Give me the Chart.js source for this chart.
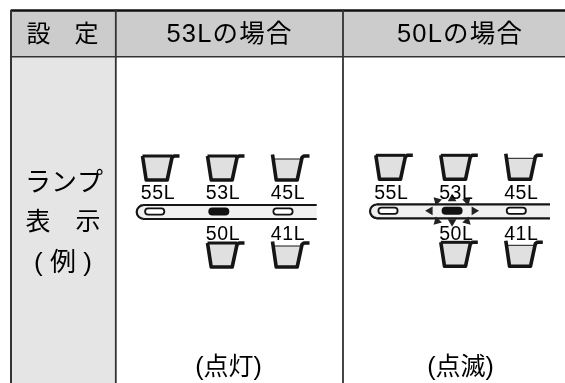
<!DOCTYPE html>
<html><head><meta charset="utf-8">
<style>html,body{margin:0;padding:0;background:#fff}canvas{display:block}</style>
<script src="https://cdn.jsdelivr.net/npm/chart.js@4"></script>
</head><body><canvas id="c" width="565" height="383"></canvas>
<script>
// ---- content ----
const headers = ['設　定', '53Lの場合', '50Lの場合'];
const rowLabels = ['ランプ', '表　示', '( 例 )'];
const captions = ['(点灯)', '(点滅)'];
const upperLevels = ['55L', '53L', '45L'];
const lowerLevels = ['50L', '41L'];
const litLevels = ['53L', '53L'];      // lamp that is on, per column
const blinking = [false, true];        // lamp blinks, per column
const fullCups = ['55L', '53L', '50L']; // cups drawn filled to the brim

// ---- diagram layout (in scale units) ----
const W = 565, H = 383;
const colX = [11, 115.8, 343, 565];
const rowY = [10.5, 56.7, 383];
const panelDX = [0, 233.3], panelDY = [0, -0.7];
const slotX = [141, 206, 271], lowerSlotX = [206, 271];
const blinkDirs = [0, 45, 90, 135, 180, 225, 270, 315];

const INK = '#151515';
const sets = [];
const line = (pts, color, width, extra) => sets.push(Object.assign({
  type: 'line', data: pts.map(p => ({x: p[0], y: p[1]})), borderColor: color, borderWidth: width,
  pointRadius: 0, fill: false, tension: 0, borderJoinStyle: 'round', borderCapStyle: 'butt'}, extra || {}));
const poly = (pts, color) => line(pts.concat([pts[0]]), 'rgba(0,0,0,0)', 0, {fill: 'shape', backgroundColor: color});
const rect = (x0, y0, x1, y1, color) => poly([[x0,y0],[x1,y0],[x1,y1],[x0,y1]], color);

// table cells
rect(colX[0], rowY[0], colX[3], rowY[1], '#cccccc');
rect(colX[0], rowY[1], colX[1], rowY[2], '#e5e5e5');
// table rules
line([[colX[0], rowY[0]], [colX[3], rowY[0]]], '#111111', 2.6);
line([[colX[0], rowY[1]], [colX[3], rowY[1]]], '#333333', 1.6);
line([[colX[0], rowY[0]], [colX[0], rowY[2]]], '#333333', 2);
line([[colX[1], rowY[0]], [colX[1], rowY[2]]], '#333333', 1.8);
line([[colX[2], rowY[0]], [colX[2], rowY[2]]], '#333333', 1.8);

function cup(x0, y0, label) {
  const full = fullCups.includes(label);
  const lvl = full ? y0 : y0 + 3;
  const top = y0 - (full ? 0 : 1.5);
  poly([[x0 + 1.5, lvl], [x0 + 31, lvl], [x0 + 26, y0 + 24], [x0 + 5.5, y0 + 24]], '#e0e0e0');
  line([[x0 + 1.5, lvl], [x0 + 31, lvl]], INK, full ? 3 : 1);
  line([[x0 + 1.5, top], [x0 + 5.2, y0 + 24], [x0 + 26.2, y0 + 24], [x0 + 31, y0 + 1.5], [x0 + 33, y0], [x0 + 38.5, y0]], INK, 3.6);
}
function lamp(cx, cy, on) {
  const half = 6.5;
  line([[cx - half, cy], [cx + half, cy]], '#111111', 8, {borderCapStyle: 'round'});
  if (!on) line([[cx - half, cy], [cx + half, cy]], '#ffffff', 4.4, {borderCapStyle: 'round'});
}
const lampX = [154.7, 218.8, 283];

litLevels.forEach((lit, p) => {
  const dx = panelDX[p], dy = panelDY[p];
  upperLevels.forEach((lv, i) => cup(slotX[i] + dx, 156 + dy, lv));
  lowerLevels.forEach((lv, i) => cup(lowerSlotX[i] + dx, 243 + dy, lv));
  // panel bar
  const by = 212 + dy, bl = 143.5 + dx, br = 316.7 + dx;
  sets.push({type: 'scatter', data: [{x: bl, y: by}], pointRadius: 6.8, pointBorderWidth: 2.2,
    pointBackgroundColor: '#f0f0f0', pointBorderColor: INK, showLine: false});
  rect(bl, by - 6.5, br, by + 6.5, '#f0f0f0');
  line([[bl, by - 7], [br, by - 7]], INK, 2.2);
  line([[bl, by + 7], [br, by + 7]], INK, 2.2);
  upperLevels.forEach((lv, i) => lamp(lampX[i] + dx, 211.5 + dy, lv === lit));
});
litLevels.forEach((lit, p) => {
  if (blinking[p]) {
    const cx = lampX[1] + panelDX[p], cy = 211.5 + panelDY[p];
    const rx = [22, 15, 0, -15, -22, -15, 0, 15], ry = [0, 10.5, 11, 10.5, 0, -10, -12, -10];
    sets.push({type: 'scatter', showLine: false,
      data: blinkDirs.map((d, i) => ({x: cx + rx[i], y: cy + ry[i]})),
      pointStyle: 'triangle', pointRadius: 5, pointBorderWidth: 0,
      pointBackgroundColor: '#222222', pointRotation: blinkDirs.map(d => d + 90)});
  }
});
sets.forEach((s, i) => { s.order = -i; });

const SANS = '"Liberation Sans","Noto Sans CJK JP",sans-serif';
const textPlugin = {
  id: 'texts',
  afterDatasetsDraw(chart) {
    const {ctx, scales: {x, y}} = chart;
    const put = (t, px, py, size, sp) => {
      ctx.font = size + 'px ' + SANS;
      ctx.letterSpacing = (sp || 0) + 'px';
      ctx.fillText(t, x.getPixelForValue(px), y.getPixelForValue(py));
    };
    ctx.save();
    ctx.fillStyle = '#000000'; ctx.textAlign = 'center'; ctx.textBaseline = 'middle';
    put(headers[0], 62.5, 35, 24);
    put(headers[1], 229.5, 35, 25.5, 1.2);
    put(headers[2], 460, 35, 25.5, 1.2);
    put(rowLabels[0], 64, 184, 26);
    put(rowLabels[1], 63, 223, 25);
    put(rowLabels[2], 63, 264, 26);
    put(captions[0], 228.5, 368, 25);
    put(captions[1], 460.5, 368, 25);
    litLevels.forEach((_, p) => {
      upperLevels.forEach((lv, i) => put(lv, slotX[i] + 17 + panelDX[p], 194 + panelDY[p], 19.5, 0.6));
      lowerLevels.forEach((lv, i) => put(lv, lowerSlotX[i] + 17 + panelDX[p], 235 + panelDY[p], 19.5, 0.6));
    });
    ctx.restore();
  }
};

new Chart(document.getElementById('c'), {
  type: 'scatter',
  data: {datasets: sets},
  options: {
    responsive: false, animation: false, parsing: true,
    layout: {padding: 0, autoPadding: false},
    plugins: {legend: {display: false}, tooltip: {enabled: false}},
    scales: {
      x: {type: 'linear', min: 0, max: W, display: false},
      y: {type: 'linear', min: 0, max: H, reverse: true, display: false}
    }
  },
  plugins: [textPlugin]
});
</script></body></html>
